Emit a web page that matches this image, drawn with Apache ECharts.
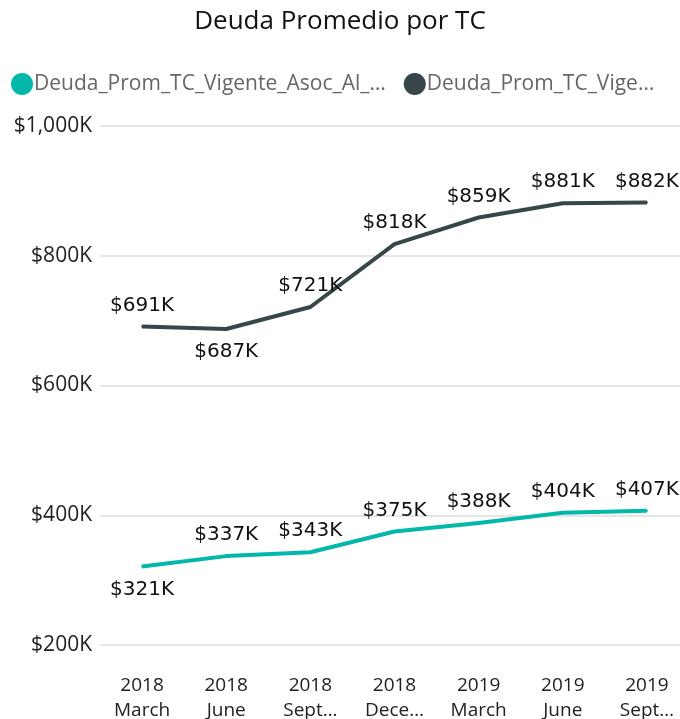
<!DOCTYPE html>
<html>
<head>
<meta charset="utf-8">
<script src="https://cdn.jsdelivr.net/npm/echarts@6/dist/echarts.min.js"></script>
<style>
  html, body { margin: 0; padding: 0; background: #fff; }
  #grafico { width: 680px; height: 719px; }
</style>
</head>
<body>
<div id="grafico"></div>
<script>
// datos (miles de $)
const years = ["2018", "2018", "2018", "2018", "2019", "2019", "2019"];
const months = ["March", "June", "Sept…", "Dece…", "March", "June", "Sept…"];
const seriesNames = ["Deuda_Prom_TC_Vigente_Asoc_Al_…", "Deuda_Prom_TC_Vige…"];
const asocValues = [321, 337, 343, 375, 388, 404, 407];
const vigValues = [691, 687, 721, 818, 859, 881, 882];
const asocLabelPos = ["bottom", "top", "top", "top", "top", "top", "top"];
const vigLabelPos = ["top", "bottom", "top", "top", "top", "top", "top"];

const categories = years.map((y, i) => y + "\n" + months[i]);
const fmt = v => "$" + v.toLocaleString("en-US") + "K";
const font = "'Open Sans', 'Noto Sans', sans-serif";

function buildData(values, pos) {
  return values.map((v, i) => ({
    value: v,
    label: { position: pos[i], distance: pos[i] === "top" ? 10 : 12 }
  }));
}

const labelStyle = {
  show: true,
  formatter: p => fmt(p.value),
  fontFamily: "'DejaVu Sans', sans-serif",
  fontSize: 20,
  color: "#111"
};

let options = {
  animation: false,
  color: ["#01B8AA", "#374649"],
  title: {
    text: "Deuda Promedio por TC",
    left: "center",
    top: 4,
    textStyle: { fontFamily: font, fontSize: 26, fontWeight: "normal", color: "#111" }
  },
  legend: {
    left: 6,
    top: 68,
    icon: "circle",
    itemWidth: 22,
    itemHeight: 22,
    itemGap: 18,
    textStyle: { fontFamily: font, fontSize: 21, color: "#666", padding: [0, 0, 0, -4] },
    data: seriesNames
  },
  grid: { left: 100, right: -9, top: 126, bottom: 74, outerBoundsMode: "none", containLabel: false },
  xAxis: {
    type: "category",
    data: categories,
    boundaryGap: true,
    axisLine: { show: false },
    axisTick: { show: false },
    axisLabel: {
      fontFamily: font, fontSize: 19, color: "#222", margin: 28, lineHeight: 25
    }
  },
  yAxis: {
    type: "value",
    min: 200,
    max: 1000,
    interval: 200,
    axisLabel: {
      formatter: fmt, fontFamily: font, fontSize: 21, color: "#222", margin: 8
    },
    splitLine: { lineStyle: { color: "#e6e6e6", width: 2 } }
  },
  series: [
    {
      name: seriesNames[0],
      type: "line",
      data: buildData(asocValues, asocLabelPos),
      symbol: "circle",
      symbolSize: 2,
      lineStyle: { width: 4 },
      label: labelStyle
    },
    {
      name: seriesNames[1],
      type: "line",
      data: buildData(vigValues, vigLabelPos),
      symbol: "circle",
      symbolSize: 2,
      lineStyle: { width: 4 },
      label: labelStyle
    }
  ]
};

let chart = echarts.init(document.getElementById("grafico"));
chart.setOption(options);
</script>
</body>
</html>
